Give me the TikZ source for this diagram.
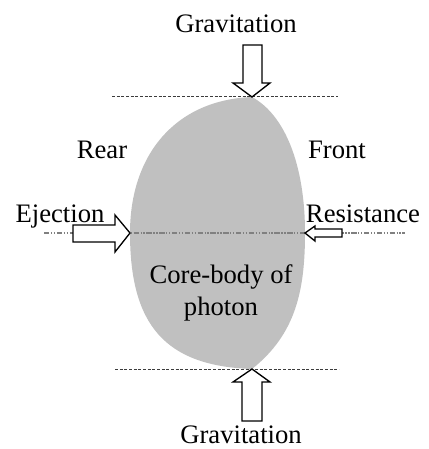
\documentclass[tikz,border=0pt]{standalone}
\usepackage{fontspec}
\setmainfont{Liberation Serif}

\tikzset{every picture/.style={line width=0.75pt}}
\tikzset{
  blockarrow/.style={draw=black, fill=white, line width=1pt, line join=miter},
  guideline/.style={draw={rgb, 255:red, 60; green, 60; blue, 60}, dash pattern={on 2.2pt off 1.3pt}, line width=0.75pt},
  axisline/.style={draw={rgb, 255:red, 128; green, 128; blue, 128}, dash pattern={on 4pt off 1.2pt on 1pt off 1.2pt on 1pt off 1.2pt}, line width=0.9pt},
  lbl/.style={anchor=base, inner sep=0.75pt, font=\fontsize{20}{24}\selectfont}
}

\begin{document}
\begin{tikzpicture}[x=0.75pt,y=0.75pt,yscale=-1,xscale=1]
\useasboundingbox (0,0) rectangle (428,449);

%Shape: Core body [id:dp1]
\fill [fill={rgb, 255:red, 192; green, 192; blue, 192 }] (252,97) .. controls (175,100) and (130,155) .. (130,233) .. controls (130,325) and (165,366) .. (252,369) .. controls (296,334) and (305,290) .. (305,233) .. controls (305,165) and (285,115) .. (252,97) -- cycle ;

%Straight Lines [id:da1]
\draw [guideline] (112,97) -- (338,97) ;
%Straight Lines [id:da2]
\draw [guideline] (115,369) -- (339,369) ;
%Straight Lines [id:da3]
\draw [axisline] (44,233) -- (405,233) ;

%Shape: Down Arrow [id:dp2]
\draw [blockarrow] (243,45) -- (262,45) -- (262,83) -- (270,83) -- (252,97) -- (233,83) -- (243,83) -- cycle ;
%Shape: Up Arrow [id:dp3]
\draw [blockarrow] (252,369) -- (270,382) -- (262,382) -- (262,421) -- (242,421) -- (242,382) -- (233,382) -- cycle ;
%Shape: Right Arrow [id:dp4]
\draw [blockarrow] (73,225) -- (115,225) -- (115,215) -- (130,233) -- (115,252) -- (115,242) -- (73,242) -- cycle ;
%Shape: Left Arrow [id:dp5]
\draw [blockarrow] (342,229) -- (315,229) -- (315,226) -- (305,233) -- (315,241) -- (315,237) -- (342,237) -- cycle ;

% Text Node
\draw (236,33) node [lbl] (gravtop) {Gravitation};
% Text Node
\draw (241,443) node [lbl] (gravbot) {Gravitation};
% Text Node
\draw (102,158) node [lbl] (rear) {Rear};
% Text Node
\draw (337,158) node [lbl] (front) {Front};
% Text Node
\draw (60,222) node [lbl] (ejection) {Ejection};
% Text Node
\draw (363,222) node [lbl] (resistance) {Resistance};
% Text Node
\draw (221,315) node [lbl, align=center] (core) {Core-body of\\photon};

\end{tikzpicture}
\end{document}
